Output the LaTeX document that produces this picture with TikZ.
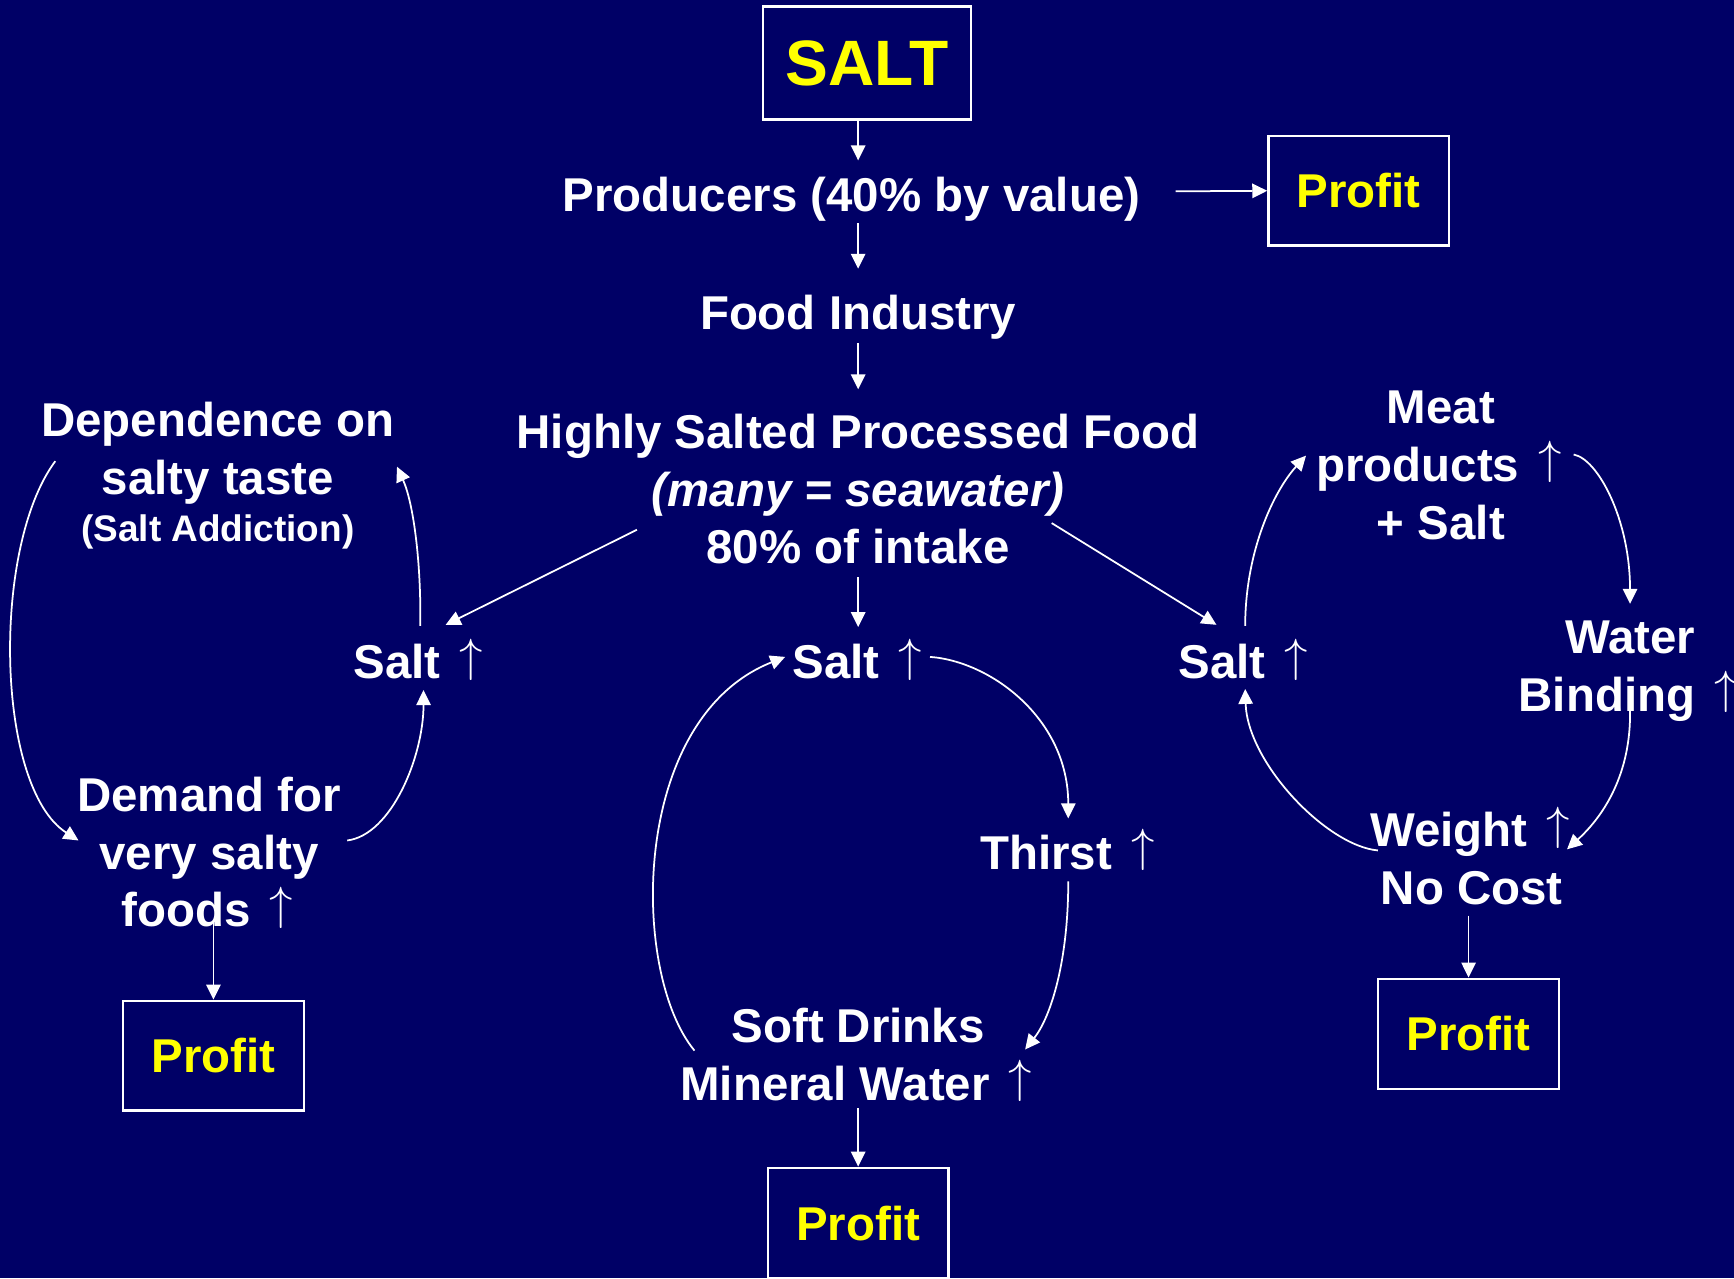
\documentclass[tikz,border=0pt]{standalone}
\usepackage{fontspec}
\setmainfont{Liberation Sans}
\usetikzlibrary{arrows.meta}
\definecolor{slidebg}{RGB}{0,0,102}
\definecolor{slideyellow}{RGB}{255,255,0}
\newcommand{\upar}{\kern1.5pt{\fontsize{11.6}{14}\selectfont\smash{\raisebox{0.17em}{$\uparrow$}}}\kern1pt}

\begin{document}
\begin{tikzpicture}[->,>={Triangle[length=1.35mm,width=1.3mm]},
        x=0.01cm, y=-0.01cm, line width=0.45pt, white,
        text node/.style={anchor=north, inner sep=0pt, align=center, text=white,
            font=\fontsize{12.2}{14.8}\selectfont\bfseries},
        box node/.style={draw=white, line width=0.6pt, inner sep=0pt,
            text=slideyellow, font=\fontsize{12.2}{14.8}\selectfont\bfseries,
            minimum width=1.63cm, minimum height=0.99cm}]

    % Background
    \path[use as bounding box, fill=slidebg] (0,0) rectangle (1568,1156);

    % Nodes
    \node[box node, minimum width=1.88cm, minimum height=1.02cm,
        font=\fontsize{16.5}{18}\selectfont\bfseries] (salt) at (784,57) {SALT};
    \node[text node] (prod) at (770,159) {Producers (40\% by value)};
    \node[box node] (profA) at (1228.5,172.5) {Profit};
    \node[text node] (food) at (776,266) {Food Industry};
    \node[text node] (proc) at (776,374)
        {Highly Salted Processed Food\\\textit{(many = seawater)}\\80\% of intake};
    \node[text node] (saltC) at (777,582) {Salt \upar};
    \node[text node] (saltL) at (380,582) {Salt \upar};
    \node[text node] (saltR) at (1126,582) {Salt \upar};
    \node[text node] (dep) at (197,363)
        {Dependence on\\salty taste\\[-2.6pt]{\fontsize{9.5}{14.8}\selectfont (Salt Addiction)}};
    \node[text node] (demand) at (189,702) {Demand for\\very salty\\foods \upar};
    \node[box node, minimum width=1.64cm] (profL) at (193,954.5) {Profit};
    \node[text node] (thirst) at (967,754) {Thirst \upar};
    \node[text node] (drinks) at (776,911) {Soft Drinks\\Mineral Water \upar};
    \node[box node, minimum height=1cm] (profC) at (776,1106) {Profit};
    \node[text node] (meat) at (1303,353) {Meat\\products \upar\\+ Salt};
    \node[text node] (water) at (1474,561) {Water\\Binding \upar};
    \node[text node] (weight) at (1331,734) {Weight \upar\\No Cost};
    \node[box node, minimum width=1.64cm, minimum height=1cm] (profR) at (1328,935) {Profit};

    % Edges
    \path
    (salt.south -| food.north) edge ([shift={(6,-14)}]prod.north)
    ([shift={(6,43)}]prod.north) edge ([shift={(0,-23)}]food.north)
    ([shift={(0,44)}]food.north) edge ([shift={(0,-22)}]proc.north)
    ([shift={(0,148)}]proc.north) edge ([shift={(-1,-15)}]saltC.north)
    ([shift={(293,14)}]prod.north) edge (profA.west)
    ([shift={(-200,105)}]proc.north) edge ([shift={(23,-17)}]saltL.north)
    ([shift={(175,99)}]proc.north) edge ([shift={(-26,-17)}]saltR.north)
    ([shift={(4,130)}]demand.north) edge (profL.north)
    ([shift={(0,91)}]drinks.north) edge (profC.north)
    ([shift={(-3,94)}]weight.north) edge (profR.north);

    % Loops
    \draw ([shift={(-147,54)}]dep.north) .. controls +(-58,78) and +(-75,-48) .. ([shift={(-118,58)}]demand.north);
    \draw ([shift={(0,-16)}]saltL.north) .. controls +(1,-56) and +(15,33) .. ([shift={(162,59)}]dep.north);
    \draw ([shift={(125,58)}]demand.north) .. controls +(40,-5) and +(0,60) .. ([shift={(3,42)}]saltL.north);
    \draw ([shift={(64,12)}]saltC.north) .. controls +(55,4) and +(0,-90) .. ([shift={(-1,-14)}]thirst.north);
    \draw ([shift={(-1,43)}]thirst.north) .. controls +(0,73) and +(23,-29) .. ([shift={(151,38)}]drinks.north);
    \draw ([shift={(-148,39)}]drinks.north) .. controls +(-58,-70) and +(-141,56) .. ([shift={(-67,12)}]saltC.north);
    \draw ([shift={(0,-16)}]saltR.north) .. controls +(0,-66) and +(-30,33) .. ([shift={(-122,59)}]meat.north);
    \draw ([shift={(120,58)}]meat.north) .. controls +(22,4) and +(0,-76) .. ([shift={(0,-15)}]water.north);
    \draw ([shift={(0,81)}]water.north) .. controls +(1,58) and +(33,-30) .. ([shift={(86,34)}]weight.north);
    \draw ([shift={(-85,35)}]weight.north) .. controls +(-46,-4) and +(2,67) .. ([shift={(0,41)}]saltR.north);

\end{tikzpicture}
\end{document}
